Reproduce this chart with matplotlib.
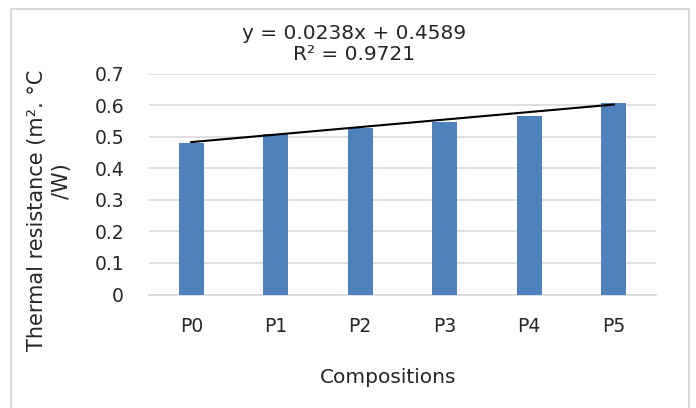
import numpy as np
import matplotlib.pyplot as plt
from matplotlib.patches import Rectangle

categories = ['P0', 'P1', 'P2', 'P3', 'P4', 'P5']
resistance = [0.479, 0.509, 0.527, 0.545, 0.566, 0.607]
slope = 0.0238
intercept = 0.4589
r_squared = 0.9721
y_ticks = [0, 0.1, 0.2, 0.3, 0.4, 0.5, 0.6, 0.7]

plt.rcParams['font.family'] = ['DejaVu Sans']
text_color = '#262626'
W, H = 696, 408

fig = plt.figure(figsize=(W / 100, H / 100), dpi=100)
# chart frame, its bottom edge runs off the picture
fig.patches.append(Rectangle((11 / W, -0.05), 678 / W, 1.05 - 9.5 / H, transform=fig.transFigure,
                             fill=False, edgecolor='#d9d9d9', linewidth=1.5))
ax = fig.add_axes([149 / W, 1 - 294.5 / H, 507 / W, 221 / H])

x = np.arange(len(categories))
ax.bar(x, resistance, width=0.29, color='#4f81bd', zorder=3)

# linear trendline, Excel numbers the categories from 1
trend_x = np.array([x[0], x[-1]])
ax.plot(trend_x, slope * (trend_x + 1) + intercept, color='black', linewidth=1.5, zorder=4)

ax.set_xlim(-0.5, len(categories) - 0.5)
ax.set_ylim(0, 0.7)
ax.set_yticks(y_ticks)
ax.set_yticklabels(['0' if t == 0 else f'{t:.1f}' for t in y_ticks])
ax.set_xticks(x)
ax.set_xticklabels(categories)
ax.grid(axis='y', color='#d9d9d9', linewidth=1.2, zorder=0)
for side in ['top', 'right', 'left']:
    ax.spines[side].set_visible(False)
ax.spines['bottom'].set_color('#d9d9d9')
ax.spines['bottom'].set_linewidth(1.2)
ax.tick_params(length=0, labelsize=13.5, colors=text_color)
ax.tick_params(axis='x', pad=16)
ax.tick_params(axis='y', pad=18)

fig.text(388 / W, 1 - 383 / H, 'Compositions', fontsize=14.5, color=text_color,
         ha='center', va='baseline')
fig.text(37 / W, 1 - 210 / H, 'Thermal resistance (m². °C', rotation=90, fontsize=15,
         color=text_color, ha='center', va='center')
fig.text(62 / W, 1 - 181 / H, '/W)', rotation=90, fontsize=15,
         color=text_color, ha='center', va='center')

fig.text(354 / W, 1 - 39 / H, f'y = {slope}x + {intercept}', fontsize=14.5,
         color=text_color, ha='center', va='baseline')
fig.text(354 / W, 1 - 60 / H, f'R² = {r_squared}', fontsize=14.5,
         color=text_color, ha='center', va='baseline')

fig.savefig('out.png', dpi=100)
